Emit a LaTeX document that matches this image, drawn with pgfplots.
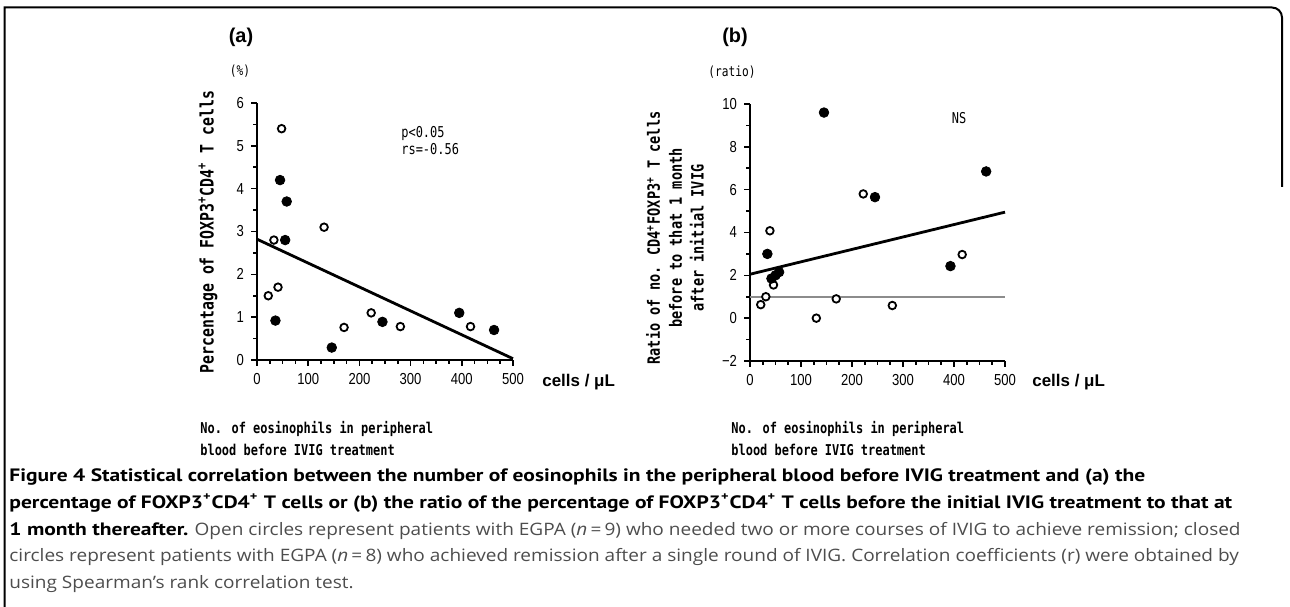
\documentclass[border=0pt]{standalone}
\usepackage{pgfplots}
\pgfplotsset{compat=1.18}
\usepackage{fontspec}
\setmainfont{PT Sans}
\newfontfamily\captbf[FakeStretch=1.2]{PT Sans}
\newfontfamily\captrm{Open Sans}
\newfontfamily\gothic[FakeStretch=0.8]{DejaVu Sans Mono}
\newfontfamily\tickfont[FakeStretch=0.82]{Liberation Sans}
\newfontfamily\arial{Liberation Sans}
\definecolor{captgray}{HTML}{4D4D4D}
\definecolor{refgray}{HTML}{8C8C8C}
\newcommand\plain[1]{\scalebox{1.11}[1]{\captrm\fontsize{8.6}{13.5}\selectfont\color{captgray}#1}}

\pgfplotsset{
  eos/.style={
    scale only axis, clip=false,
    axis x line*=bottom, axis y line*=left,
    axis line style={line width=1bp},
    xmin=0, xmax=500, xtick={0,100,...,500}, minor x tick num=3,
    tick align=outside, major tick length=3bp, minor tick length=2bp,
    every tick/.style={black, line width=0.8bp},
    ticklabel style={font=\tickfont\fontsize{8}{8}\selectfont},
    /pgf/number format/assume math mode=true,
  },
  open/.style={only marks, mark=*, mark size=1.9bp,
    mark options={line width=0.9bp, draw=black, fill=white}},
  closed/.style={only marks, mark=*, mark size=2.4bp, mark options={black}},
}

\begin{document}
% picture units: 1 = one pixel of the 1290x607 sheet (half a big point), y from the bottom
\begin{tikzpicture}[x=0.5bp, y=0.5bp]
\useasboundingbox (0,0) rectangle (1290,607);

% frame
\draw[line width=1bp] (4.5,0) -- (4.5,599.5) -- (1272,599.5)
  arc[start angle=90, end angle=0, radius=10] -- (1282,420);

% (a)
\begin{axis}[eos, at={(128.5bp,123.5bp)}, anchor=south west,
  width=128bp, height=128.5bp,
  ymin=0, ymax=6, ytick={0,...,6}, minor y tick num=1]
\addplot[black, line width=1.4bp] coordinates {(0,2.82) (500,0.03)};
\addplot[open] coordinates {
  (33,2.8) (48,5.4) (131,3.1) (22,1.5) (41,1.7)
  (170,0.76) (223,1.1) (280,0.78) (417,0.78)
};
\addplot[closed] coordinates {
  (55,2.8) (58,3.7) (45,4.2) (36,0.92) (146,0.29)
  (245,0.89) (395,1.1) (463,0.7)
};
\end{axis}

% (b)
\begin{axis}[eos, at={(375bp,123bp)}, anchor=south west,
  width=127.5bp, height=128.5bp,
  ymin=-2, ymax=10, ytick={-2,0,...,10}, yticklabels={−2,0,2,4,6,8,10},
  minor y tick num=1]
\addplot[refgray, line width=1bp] coordinates {(0,1) (500,1)};
\addplot[black, line width=1.4bp] coordinates {(0,2.05) (500,4.95)};
\addplot[open] coordinates {
  (222,5.8) (39,4.08) (46,1.55) (31,1.0) (21,0.63)
  (130,0.0) (169,0.9) (279,0.59) (416,2.97)
};
\addplot[closed] coordinates {
  (145,9.6) (463,6.85) (245,5.65) (34,3.0) (393,2.43)
  (42,1.85) (50,2.0) (57,2.15)
};
\end{axis}

% panel texts
\node[font=\arial\bfseries\fontsize{10}{10}\selectfont] at (241,570) {(a)};
\node[font=\arial\bfseries\fontsize{10}{10}\selectfont] at (735,570) {(b)};
\node[font=\gothic\fontsize{7}{7}\selectfont] at (240,536) {(\%)};
\node[font=\gothic\fontsize{7}{7}\selectfont] at (732,535) {(ratio)};
\node[font=\gothic\fontsize{7.5}{8.5}\selectfont, anchor=north west, align=left,
  inner sep=0pt] at (401,481) {p<0.05\\rs=-0.56};
\node[font=\gothic\fontsize{7.5}{8}\selectfont] at (959,489) {NS};

\node[font=\arial\bfseries\fontsize{8.5}{8.5}\selectfont, anchor=west, inner sep=0pt]
  at (542,225) {cells / μL};
\node[font=\arial\bfseries\fontsize{8.5}{8.5}\selectfont, anchor=west, inner sep=0pt]
  at (1032,225) {cells / μL};

\node[font=\gothic\bfseries\fontsize{7.5}{11}\selectfont, anchor=north west, align=left,
  inner sep=0pt] at (200,186) {No. of eosinophils in peripheral\\blood before IVIG treatment};
\node[font=\gothic\bfseries\fontsize{7.5}{11}\selectfont, anchor=north west, align=left,
  inner sep=0pt] at (731,186) {No. of eosinophils in peripheral\\blood before IVIG treatment};

\node[font=\gothic\bfseries\fontsize{9.3}{9}\selectfont, rotate=90] at (208,375)
  {Percentage of FOXP3\textsuperscript{+}CD4\textsuperscript{+} T cells};
\node[font=\gothic\bfseries\fontsize{8.5}{11}\selectfont, rotate=90, align=center]
  at (675,369) {Ratio of no. CD4\textsuperscript{+}FOXP3\textsuperscript{+} T cells\\
  before to that 1 month\\after initial IVIG};

% caption
\node[anchor=north west, inner sep=0pt, align=left,
  font=\fontsize{9}{13.5}\selectfont] at (9,139) {%
  {\captbf\bfseries Figure 4 Statistical correlation between the number of eosinophils in the peripheral blood before IVIG treatment and (a) the}\\
  {\captbf\bfseries percentage of FOXP3\textsuperscript{+}CD4\textsuperscript{+} T cells or (b) the ratio of the percentage of FOXP3\textsuperscript{+}CD4\textsuperscript{+} T cells before the initial IVIG treatment to that at}\\
  {\captbf\bfseries 1 month thereafter.} \plain{Open circles represent patients with EGPA (\textit{n}\,=\,9) who needed two or more courses of IVIG to achieve remission; closed}\\
  \plain{circles represent patients with EGPA (\textit{n}\,=\,8) who achieved remission after a single round of IVIG. Correlation coefficients (r) were obtained by}\\
  \plain{using Spearman’s rank correlation test.}};
\end{tikzpicture}
\end{document}
